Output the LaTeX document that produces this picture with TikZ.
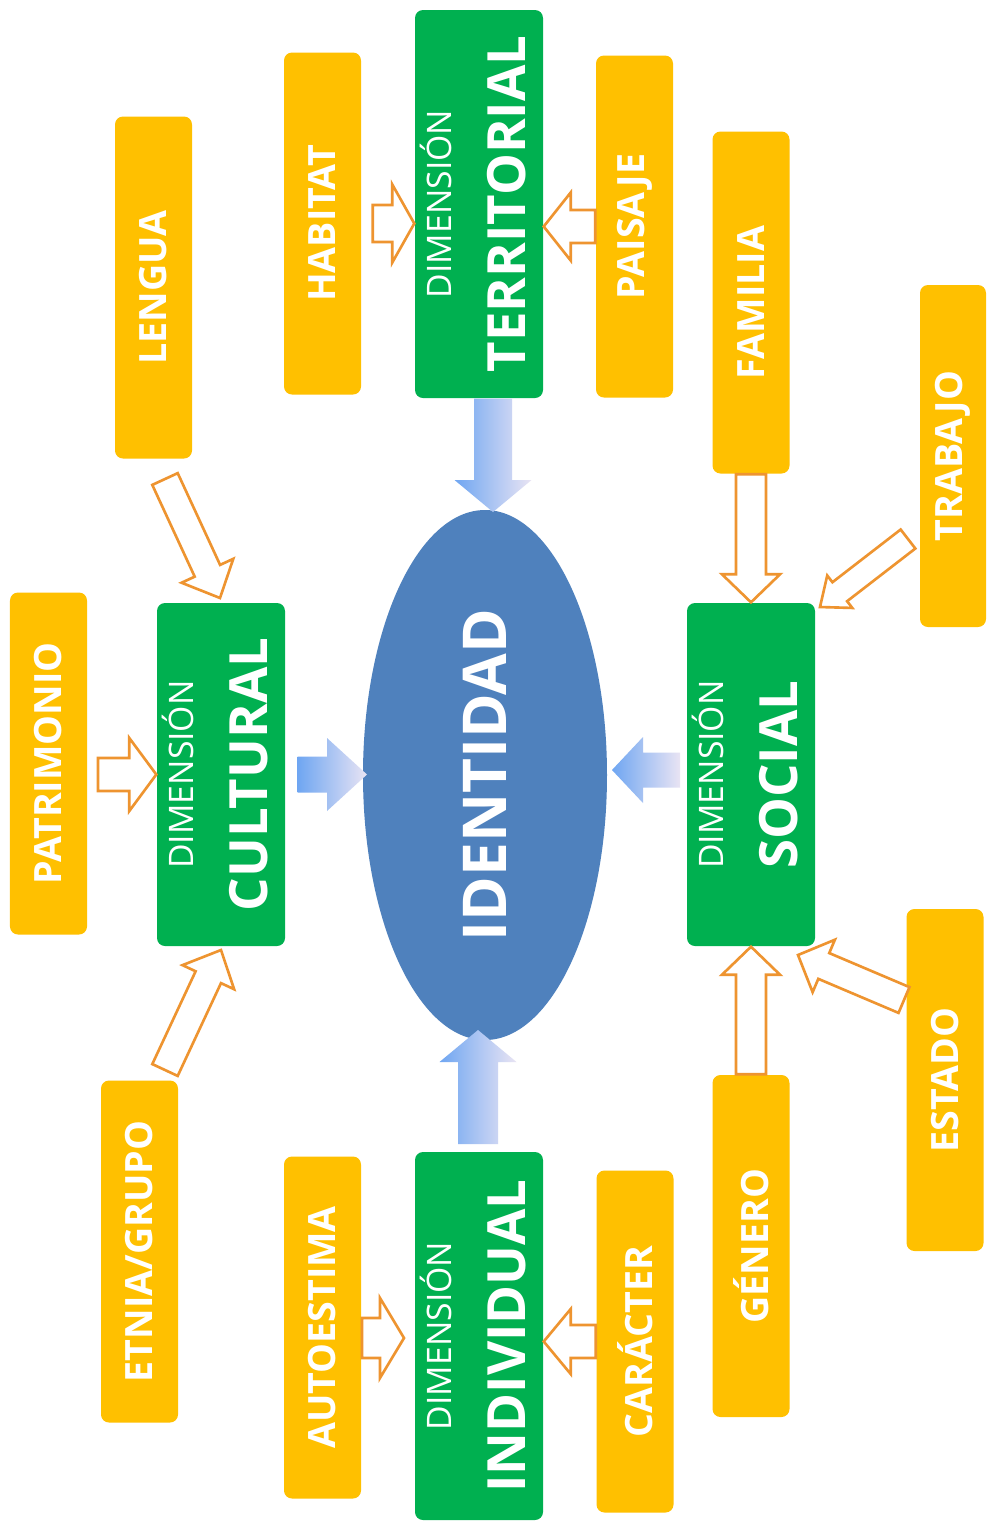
\documentclass[tikz,border=0pt]{standalone}
\usepackage{fontspec}
\setmainfont{Open Sans}
\usetikzlibrary{calc,shapes.geometric}
\definecolor{dimgreen}{HTML}{00B050}
\definecolor{itemgold}{HTML}{FFC000}
\definecolor{idblue}{HTML}{4F81BD}
\definecolor{arroworange}{HTML}{EE9430}
\definecolor{arrowblue}{HTML}{6FA6F2}
\definecolor{arrowpale}{HTML}{E9E4F3}
\newcommand{\dimtxt}{\fontsize{9.6}{11}\selectfont}
\newcommand{\nametxt}{\fontsize{15}{18}\selectfont\bfseries}
\newcommand{\itemtxt}{\fontsize{10.7}{13}\selectfont\bfseries}
\newcommand{\idtxt}{\fontsize{17.2}{21}\selectfont\bfseries}
\def\fatarrow[#1](#2)(#3)(#4:#5:#6){%
	\coordinate (fa-b) at ($(#3)!#6!(#2)$);
	\draw[#1] ($(#2)!#4!90:(#3)$) -- ($(fa-b)!#4!90:(#3)$) -- ($(fa-b)!#5!90:(#3)$) -- (#3)
		-- ($(fa-b)!#5!-90:(#3)$) -- ($(fa-b)!#4!-90:(#3)$) -- ($(#2)!#4!-90:(#3)$) -- cycle;}
\def\dimlabel#1{\rotatebox{90}{\begin{tabular}{@{}c@{}}{\dimtxt DIMENSIÓN}\\[6.7pt]{\nametxt #1}\end{tabular}}}

\begin{document}
\begin{tikzpicture}[y=-1cm,
		dimbox/.style={fill=dimgreen, rounded corners=0.08cm, text=white, inner sep=0pt, minimum width=1.28cm},
		itembox/.style={fill=itemgold, rounded corners=0.08cm, text=white, inner sep=0pt, minimum width=0.77cm, minimum height=3.42cm, font=\itemtxt},
		hollow/.style={draw=arroworange, fill=white, line width=0.75pt},
		blueflow/.style={draw=none, left color=arrowblue, right color=arrowpale}]
		%%%%% START %%%%%
		\useasboundingbox (0,0) rectangle (9.89,15.23);
		\fill[white] (0,0) rectangle (9.89,15.23);
		
		\node[ellipse, fill=idblue, text=white, inner sep=0pt, minimum width=2.44cm, minimum height=5.30cm] (identidad) at (4.85, 7.75) {\rotatebox{90}{\idtxt IDENTIDAD}};
		
		\node[dimbox, minimum height=3.88cm] (territorial) at (4.79, 2.04) {\dimlabel{TERRITORIAL}};
		\node[dimbox, minimum height=3.43cm] (cultural) at (2.21, 7.745) {\dimlabel{CULTURAL}};
		\node[dimbox, minimum height=3.43cm] (social) at (7.51, 7.745) {\dimlabel{SOCIAL}};
		\node[dimbox, minimum height=3.68cm] (individual) at (4.79, 13.36) {\dimlabel{INDIVIDUAL}};
		
		% blue arrows into the ellipse
		\coordinate (ter-s) at ([xshift=1.4mm]territorial.south);
		\coordinate (ter-e) at (4.93, 5.12);
		\fatarrow[blueflow](ter-s)(ter-e)(0.19cm:0.385cm:0.32cm)
		\coordinate (ind-s) at (4.78, 11.44);
		\coordinate (ind-e) at (4.78, 10.30);
		\fatarrow[blueflow](ind-s)(ind-e)(0.20cm:0.385cm:0.32cm)
		\coordinate (cul-s) at ([xshift=1.2mm]cultural.east);
		\coordinate (cul-e) at (3.67, 7.745);
		\fatarrow[blueflow](cul-s)(cul-e)(0.18cm:0.365cm:0.40cm)
		\coordinate (soc-s) at (6.80, 7.70);
		\coordinate (soc-e) at (6.12, 7.70);
		\fatarrow[blueflow](soc-s)(soc-e)(0.175cm:0.33cm:0.31cm)
		
		\node[itembox] (lengua) at (1.535, 2.875) {\rotatebox{90}{LENGUA}};
		\node[itembox] (habitat) at (3.225, 2.235) {\rotatebox{90}{HABITAT}};
		\node[itembox] (paisaje) at (6.345, 2.265) {\rotatebox{90}{PAISAJE}};
		\node[itembox] (familia) at (7.51, 3.025) {\rotatebox{90}{FAMILIA}};
		\node[itembox, minimum width=0.66cm] (trabajo) at (9.53, 4.56) {\rotatebox{90}{TRABAJO}};
		\node[itembox] (patrimonio) at (0.485, 7.635) {\rotatebox{90}{PATRIMONIO}};
		\node[itembox] (etnia) at (1.395, 12.515) {\rotatebox{90}{ETNIA/GRUPO}};
		\node[itembox] (autoestima) at (3.225, 13.275) {\rotatebox{90}{AUTOESTIMA}};
		\node[itembox] (caracter) at (6.35, 13.415) {\rotatebox{90}{CARÁCTER}};
		\node[itembox] (genero) at (7.51, 12.46) {\rotatebox{90}{GÉNERO}};
		\node[itembox] (estado) at (9.45, 10.80) {\rotatebox{90}{ESTADO}};
		
		% hollow arrows into the dimensions
		\coordinate (hab-s) at ([xshift=1.1mm]habitat.east);
		\coordinate (hab-e) at (hab-s -| territorial.west);
		\fatarrow[hollow](hab-s)(hab-e)(0.185cm:0.39cm:0.22cm)
		\coordinate (pai-s) at (paisaje.west);
		\coordinate (pai-e) at (pai-s -| territorial.east);
		\fatarrow[hollow](pai-s)(pai-e)(0.165cm:0.34cm:0.27cm)
		
		\coordinate (len-s) at (1.65, 4.79);
		\coordinate (len-e) at (2.20, 5.98);
		\fatarrow[hollow](len-s)(len-e)(0.14cm:0.285cm:0.30cm)
		\coordinate (pat-s) at (0.98, 7.745);
		\fatarrow[hollow](pat-s)(cultural.west)(0.165cm:0.365cm:0.27cm)
		\coordinate (etn-s) at (1.65, 10.70);
		\coordinate (etn-e) at (2.21, 9.50);
		\fatarrow[hollow](etn-s)(etn-e)(0.14cm:0.285cm:0.30cm)
		
		\fatarrow[hollow](familia.south)(social.north)(0.15cm:0.29cm:0.28cm)
		\coordinate (tra-s) at (9.08, 5.39);
		\coordinate (tra-e) at (8.20, 6.07);
		\fatarrow[hollow](tra-s)(tra-e)(0.12cm:0.205cm:0.25cm)
		\fatarrow[hollow](genero.north)(social.south)(0.15cm:0.29cm:0.28cm)
		\coordinate (est-s) at (9.04, 10.00);
		\coordinate (est-e) at (7.98, 9.55);
		\fatarrow[hollow](est-s)(est-e)(0.14cm:0.285cm:0.28cm)
		
		\coordinate (aut-s) at (3.62, 13.38);
		\coordinate (aut-e) at (4.04, 13.38);
		\fatarrow[hollow](aut-s)(aut-e)(0.20cm:0.40cm:0.24cm)
		\coordinate (car-s) at (caracter.west);
		\coordinate (car-e) at (car-s -| individual.east);
		\fatarrow[hollow](car-s)(car-e)(0.165cm:0.325cm:0.27cm)
		%%%%% END %%%%%
	\end{tikzpicture}
\end{document}
